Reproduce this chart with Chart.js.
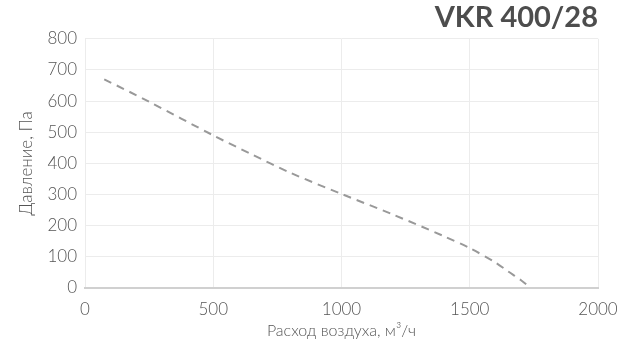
<!DOCTYPE html>
<html><head><meta charset="utf-8">
<script src="https://cdn.jsdelivr.net/npm/chart.js@4/dist/chart.umd.min.js"></script>
<style>html,body{margin:0;padding:0;background:#fff}#wrap{width:640px;height:349px;position:relative}</style>
</head><body><div id="wrap"><canvas id="c"></canvas></div>
<script>
const titleText = "VKR 400/28";
const xAxisTitle = "Расход воздуха, м³/ч";
const yAxisTitle = "Давление, Па";
const flow = [75, 250, 500, 650, 800, 1000, 1200, 1400, 1500, 1600, 1650, 1700, 1738];
const pressure = [670, 598, 490, 429, 370, 302, 236, 166, 128, 82, 53, 25, 0];
const points = flow.map((x, i) => ({x: x, y: pressure[i]}));
const FONT = "Lato, 'Open Sans', sans-serif";
new Chart(document.getElementById('c'), {
  type: 'scatter',
  data: {datasets: [{
    data: points, showLine: true, borderColor: '#999999', borderWidth: 2,
    borderDash: [8, 6], pointRadius: 0, tension: 0.3, fill: false
  }]},
  options: {
    responsive: true, maintainAspectRatio: false, animation: false,
    layout: {padding: {left: 16, right: 42, top: 0, bottom: 9}},
    plugins: {
      legend: {display: false}, tooltip: {enabled: false},
      title: {display: true, text: titleText, align: 'end', color: '#4d4d4d',
        font: {family: FONT, size: 29, weight: 'bold', lineHeight: 1.2}, padding: {top: 0, bottom: 4}}
    },
    scales: {
      x: {type: 'linear', min: 0, max: 2000,
        ticks: {stepSize: 500, color: '#555555', font: {family: FONT, size: 17, weight: 300}, padding: 11,
          callback: v => String(v)},
        grid: {color: '#ececec', drawTicks: false},
        border: {color: '#d0d0d0', width: 2},
        title: {display: true, text: xAxisTitle, color: '#555555', font: {family: FONT, size: 16, weight: 300}, padding: {top: 1, bottom: 0}},
        afterFit: s => { s.height = 52; }
      },
      y: {min: 0, max: 800,
        ticks: {stepSize: 100, color: '#555555', font: {family: FONT, size: 17, weight: 300}, padding: 8},
        grid: {color: '#ececec', drawTicks: false},
        border: {display: false},
        title: {display: true, text: yAxisTitle, color: '#555555', font: {family: FONT, size: 17, weight: 300}, padding: {top: 0, bottom: 0}},
        afterFit: s => { s.width = 69; }
      }
    }
  }
});
</script></body></html>
